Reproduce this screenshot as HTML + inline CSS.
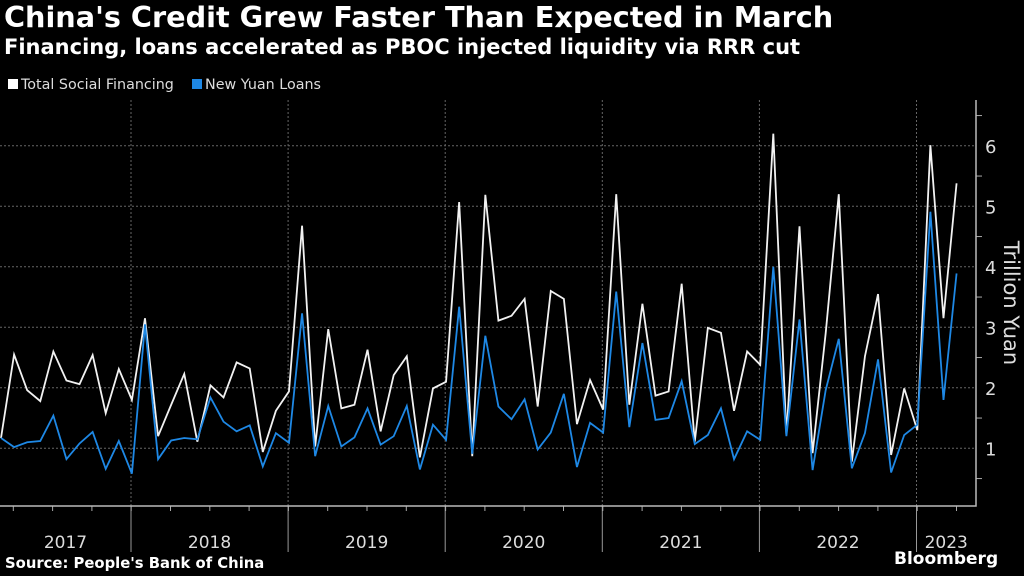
<!DOCTYPE html>
<html><head><meta charset="utf-8"><style>
html,body{margin:0;padding:0;background:#000;}
body{width:1024px;height:576px;overflow:hidden;position:relative;font-family:"DejaVu Sans","Liberation Sans",sans-serif;color:#fff;}
.t{position:absolute;white-space:nowrap;}
</style></head><body>
<div class="t" style="left:4px;top:0px;font-size:28.7px;font-weight:bold;">China's Credit Grew Faster Than Expected in March</div>
<div class="t" style="left:4px;top:35px;font-size:21px;font-weight:bold;">Financing, loans accelerated as PBOC injected liquidity via RRR cut</div>
<div class="t" style="left:8px;top:77px;font-size:14.3px;color:#ddd;"><span style="display:inline-block;width:10px;height:10px;background:#fff;margin-right:3px;"></span>Total Social Financing</div>
<div class="t" style="left:192px;top:77px;font-size:14.3px;color:#ddd;"><span style="display:inline-block;width:10px;height:10px;background:#1e88e5;margin-right:3px;"></span>New Yuan Loans</div>
<svg id="chart" width="1024" height="576" style="position:absolute;left:0;top:0;"></svg>
<div class="t" style="left:5px;top:555px;font-size:14.8px;font-weight:bold;">Source: People's Bank of China</div>
<div class="t" style="left:894px;top:549px;font-size:17px;font-weight:bold;">Bloomberg</div>
<script>
const tsf=[1.17,2.55,1.96,1.78,2.60,2.12,2.06,2.54,1.58,2.31,1.80,3.15,1.20,1.72,2.23,1.11,2.04,1.84,2.42,2.32,0.94,1.62,1.94,4.68,1.03,2.97,1.66,1.72,2.63,1.28,2.21,2.52,0.85,1.99,2.10,5.07,0.87,5.19,3.11,3.19,3.47,1.69,3.60,3.47,1.40,2.13,1.64,5.20,1.72,3.39,1.87,1.94,3.72,1.11,2.99,2.91,1.62,2.60,2.38,6.20,1.22,4.67,0.92,2.90,5.20,0.78,2.52,3.55,0.89,1.99,1.30,6.01,3.15,5.38];
const loans=[1.17,1.02,1.10,1.12,1.54,0.82,1.08,1.27,0.66,1.12,0.58,3.05,0.82,1.13,1.17,1.15,1.84,1.44,1.28,1.38,0.70,1.25,1.09,3.23,0.87,1.70,1.03,1.18,1.66,1.06,1.20,1.70,0.65,1.39,1.14,3.34,0.91,2.86,1.69,1.48,1.81,0.98,1.26,1.90,0.69,1.42,1.26,3.59,1.35,2.74,1.47,1.50,2.11,1.07,1.22,1.66,0.82,1.28,1.14,4.00,1.20,3.13,0.64,1.96,2.81,0.67,1.25,2.47,0.60,1.22,1.39,4.91,1.80,3.89];
const years=["2017","2018","2019","2020","2021","2022","2023"];
const yTicks=[1,2,3,4,5,6];
const NS="http://www.w3.org/2000/svg";
const svg=document.getElementById('chart');
const X=i=>1+13.09*i;
const Y=v=>448.3-(v-1)*60.5;
const sepX=k=>131+157.1*(k-1);
function el(t,a){const e=document.createElementNS(NS,t);for(const k in a)e.setAttribute(k,a[k]);svg.appendChild(e);return e;}
yTicks.forEach(v=>{
  const g=el('line',{x1:0,x2:976,y1:Y(v),y2:Y(v),stroke:'#666','stroke-dasharray':'2,2','stroke-width':1});
  
  
  const t=el('text',{x:985,y:Y(v)+7,fill:'#ddd','font-size':18,'font-family':'DejaVu Sans, sans-serif'});
  t.textContent=v;
  
  
});
for(let v=0.5;v<=6.5;v+=1){const m=el('line',{x1:976,x2:982,y1:Y(v),y2:Y(v),stroke:'#aaa'});
  
  }
for(let k=1;k<years.length;k++){
  const s=el('line',{x1:sepX(k),x2:sepX(k),y1:100,y2:506,stroke:'#666','stroke-dasharray':'2,2'});
  
  
  const s2=el('line',{x1:sepX(k),x2:sepX(k),y1:506,y2:552,stroke:'#999'});
  
  
}
for(let q=0;q<25;q++){const x=13.3+39.3*q;if(x<976){const tk=el('line',{x1:x,x2:x,y1:506,y2:511,stroke:'#aaa'});
  
  }}
years.forEach((y,k)=>{
  const l=k===0?0:sepX(k), r=k===years.length-1?976:sepX(k+1);
  const t=el('text',{x:(l+r)/2,y:548,fill:'#ddd','font-size':17,'text-anchor':'middle','font-family':'DejaVu Sans, sans-serif'});
  t.textContent=y;
  
  
});
const ax=el('polyline',{points:'0,506 976,506 976,100',fill:'none',stroke:'#bbb','stroke-width':1.5});


const yt=el('text',{transform:'translate(1004,303) rotate(90)',fill:'#ddd','font-size':21,'text-anchor':'middle','font-family':'DejaVu Sans, sans-serif'});
yt.textContent='Trillion Yuan';


const p1=el('polyline',{points:tsf.map((v,i)=>X(i)+','+Y(v)).join(' '),fill:'none',stroke:'#f2f2f2','stroke-width':1.8,'stroke-linejoin':'miter'});


const p2=el('polyline',{points:loans.map((v,i)=>X(i)+','+Y(v)).join(' '),fill:'none',stroke:'#1e88e5','stroke-width':1.8});


</script>
</body></html>
